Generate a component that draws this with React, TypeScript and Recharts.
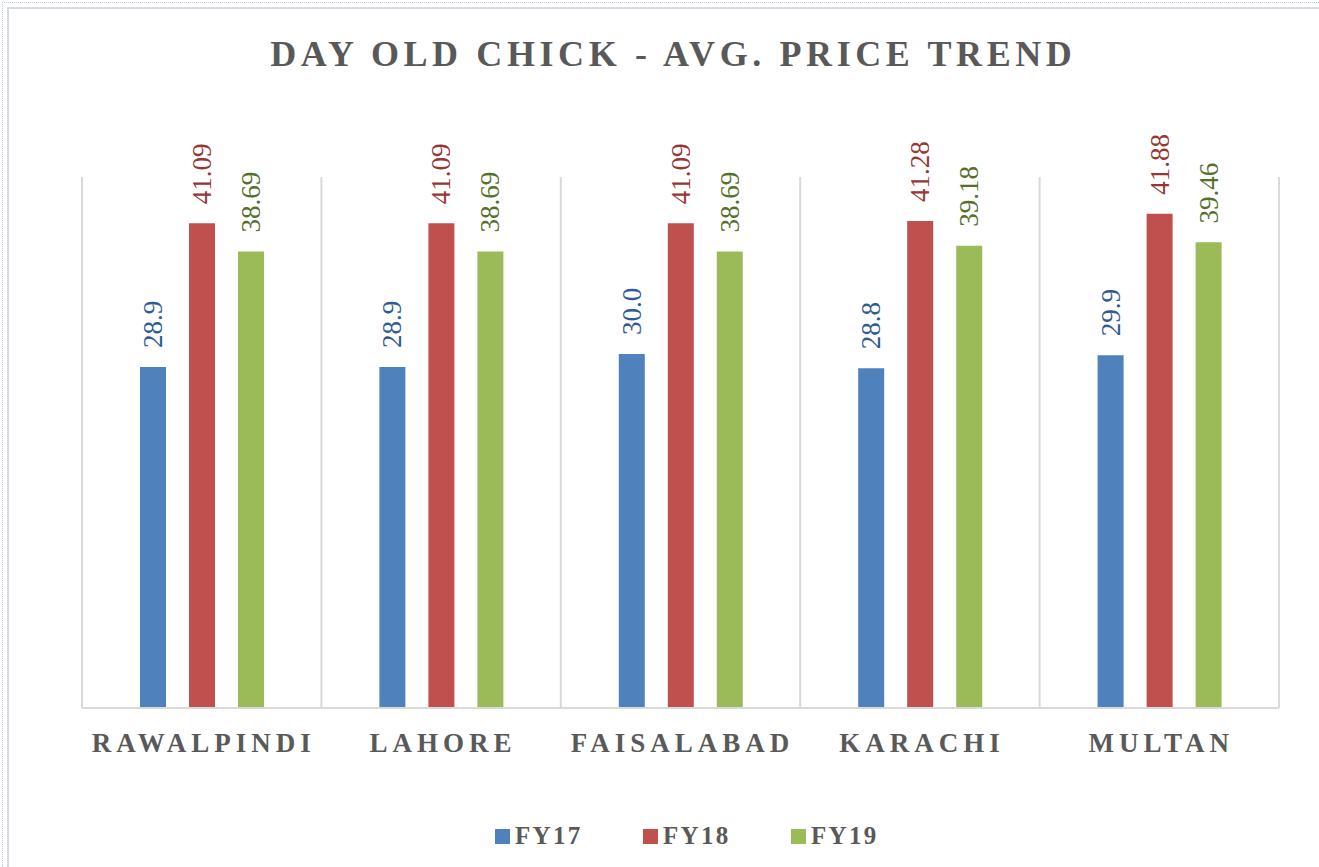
import { BarChart, Bar, XAxis, YAxis, CartesianGrid, Legend, LabelList } from 'recharts'

const cities = ['RAWALPINDI', 'LAHORE', 'FAISALABAD', 'KARACHI', 'MULTAN']
const fy17 = [28.9, 28.9, 30.0, 28.8, 29.9]
const fy18 = [41.09, 41.09, 41.09, 41.28, 41.88]
const fy19 = [38.69, 38.69, 38.69, 39.18, 39.46]
const yDomain: [number, number] = [0, 45]

const series = [
  { key: 'FY17', fill: '#4F81BD', text: '#2E5B93', digits: 1 },
  { key: 'FY18', fill: '#C0504D', text: '#953735', digits: 2 },
  { key: 'FY19', fill: '#9BBB59', text: '#55702C', digits: 2 },
]

const data = cities.map((city, i) => ({ city, FY17: fy17[i], FY18: fy18[i], FY19: fy19[i] }))

const serif = "'Liberation Serif', 'Times New Roman', serif"
const gray = '#595959'
const gridColor = '#D9D9D9'

const makeLabel = (color: string, digits: number) => (props: any) => {
  const { x, y, width, value } = props
  const cx = Number(x) + Number(width) / 2
  const cy = Number(y) - 19
  return (
    <text
      x={cx}
      y={cy}
      transform={`rotate(-90 ${cx} ${cy})`}
      textAnchor="start"
      dominantBaseline="central"
      fill={color}
      fontSize={27}
      style={{ fontFamily: serif }}
    >
      {Number(value).toFixed(digits)}
    </text>
  )
}

const CityTick = (props: any) => {
  const { x, y, payload } = props
  return (
    <text
      x={x + 2}
      y={y}
      dy={44}
      textAnchor="middle"
      fill={gray}
      fontSize={27}
      fontWeight="bold"
      style={{ fontFamily: serif }}
      letterSpacing={5}
    >
      {payload.value}
    </text>
  )
}

const renderLegend = (props: any) => (
  <div style={{ display: 'flex', alignItems: 'center', height: 30 }}>
    {props.payload.map((entry: any) => (
      <div key={entry.value} style={{ display: 'flex', alignItems: 'center', width: 148 }}>
        <span style={{ width: 15, height: 15, background: entry.color, marginRight: 5, display: 'inline-block' }} />
        <span style={{ fontFamily: serif, fontSize: 25, fontWeight: 'bold', color: gray, letterSpacing: 2.3, lineHeight: '30px' }}>
          {entry.value}
        </span>
      </div>
    ))}
  </div>
)

export default function App() {
  return (
    <div style={{ position: 'absolute', left: 0, top: 0, width: 1319, height: 867, overflow: 'hidden', background: '#fff' }}>
      {/* page guide */}
      <div style={{ position: 'absolute', left: 2, top: 2, width: 1400, height: 900, borderLeft: '1px dotted #B4C7EE', borderTop: '1px dotted #B4C7EE' }} />
      {/* chart frame */}
      <div style={{ position: 'absolute', left: 7, top: 7, width: 1340, height: 900, border: `2px solid ${gridColor}` }} />
      <div
        style={{
          position: 'absolute',
          left: 0,
          top: 36,
          width: 1342,
          textAlign: 'center',
          fontFamily: serif,
          fontSize: 36,
          lineHeight: '36px',
          fontWeight: 'bold',
          color: gray,
          letterSpacing: 4.6,
          paddingLeft: 4.6,
          boxSizing: 'border-box',
        }}
      >
        DAY OLD CHICK - AVG. PRICE TREND
      </div>
      <div style={{ position: 'absolute', left: 0, top: 0 }}>
        <BarChart
          width={1319}
          height={867}
          data={data}
          margin={{ top: 177, right: 40, left: 82, bottom: 119 }}
          barSize={26}
          barGap={23}
        >
          <CartesianGrid
            horizontal={false}
            stroke={gridColor}
            strokeWidth={2}
            verticalCoordinatesGenerator={({ offset }: any) =>
              cities.map((_, i) => offset.left + (i * offset.width) / cities.length).concat(offset.left + offset.width)
            }
          />
          <XAxis
            dataKey="city"
            height={40}
            axisLine={{ stroke: gridColor, strokeWidth: 2 }}
            tickLine={false}
            tickSize={0}
            tickMargin={0}
            tick={<CityTick />}
            interval={0}
          />
          <YAxis hide domain={yDomain} />
          <Legend
            verticalAlign="middle"
            align="center"
            layout="horizontal"
            content={renderLegend}
            wrapperStyle={{ left: 495, top: 821, width: 460 }}
          />
          {series.map((s) => (
            <Bar key={s.key} dataKey={s.key} fill={s.fill} isAnimationActive={false}>
              <LabelList dataKey={s.key} content={makeLabel(s.text, s.digits)} />
            </Bar>
          ))}
        </BarChart>
      </div>
    </div>
  )
}
